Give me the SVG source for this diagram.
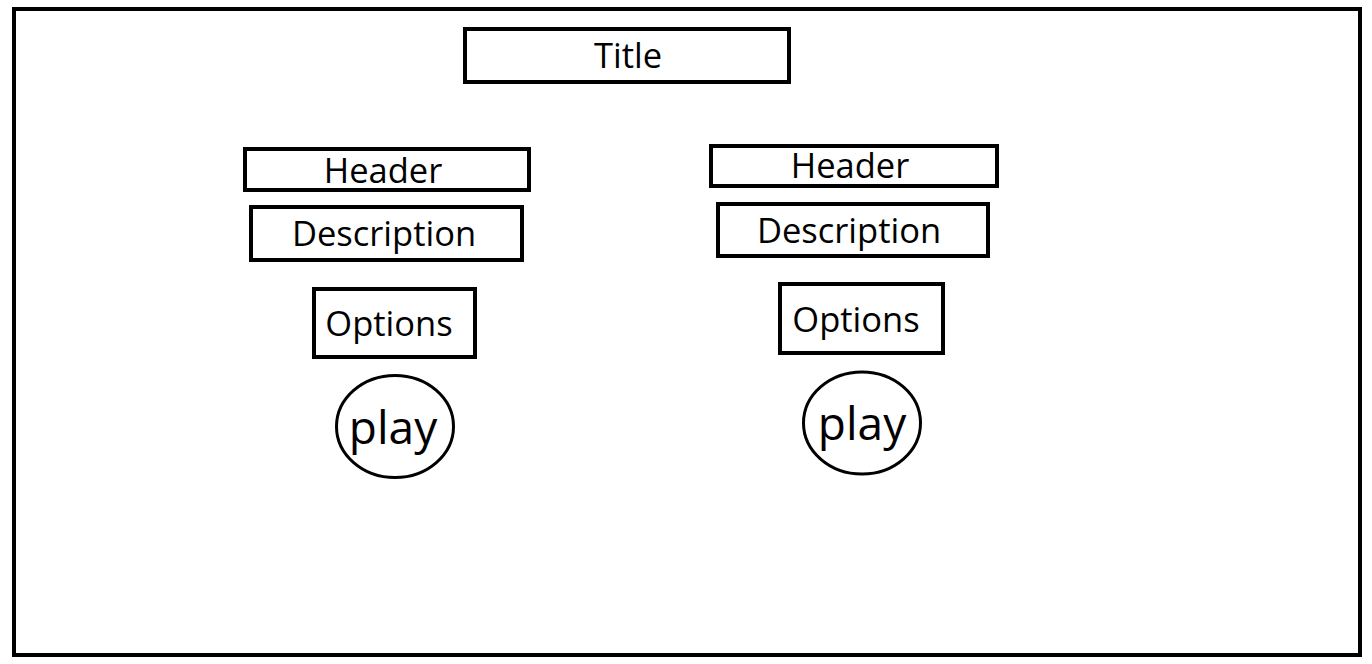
<svg xmlns="http://www.w3.org/2000/svg" width="1372" height="664" viewBox="0 0 1372 664">
<style>
.box{fill:#fff;stroke:#000;stroke-width:4}
.ell{fill:#fff;stroke:#000;stroke-width:3}
text{font-family:"Open Sans","Noto Sans",sans-serif;fill:#000;text-anchor:middle}
.t{font-size:34.5px}
.p{font-size:46px}
</style>
<rect width="1372" height="664" fill="#fff"/>
<g id="frame"><rect class="box" x="14" y="9" width="1346" height="646"/></g>
<g id="title"><rect class="box" x="465" y="29" width="324" height="53"/><text class="t" x="628" y="68">Title</text></g>
<g id="header-left"><rect class="box" x="245" y="149" width="284" height="41"/><text class="t" x="383" y="183">Header</text></g>
<g id="description-left"><rect class="box" x="251" y="207" width="271" height="53"/><text class="t" x="384" y="246">Description</text></g>
<g id="options-left"><rect class="box" x="314" y="289" width="161" height="68"/><text class="t" x="389" y="336">Options</text></g>
<g id="play-left"><ellipse class="ell" cx="395" cy="426.5" rx="58.5" ry="51"/><text class="p" x="393" y="444">play</text></g>
<g id="header-right"><rect class="box" x="711" y="146" width="286" height="40"/><text class="t" x="850" y="178">Header</text></g>
<g id="description-right"><rect class="box" x="718" y="204" width="270" height="52"/><text class="t" x="849" y="243">Description</text></g>
<g id="options-right"><rect class="box" x="780" y="284" width="163" height="69"/><text class="t" x="856" y="332">Options</text></g>
<g id="play-right"><ellipse class="ell" cx="862" cy="423" rx="58.5" ry="51"/><text class="p" x="862" y="440">play</text></g>
<g id="connectors"></g>
</svg>
